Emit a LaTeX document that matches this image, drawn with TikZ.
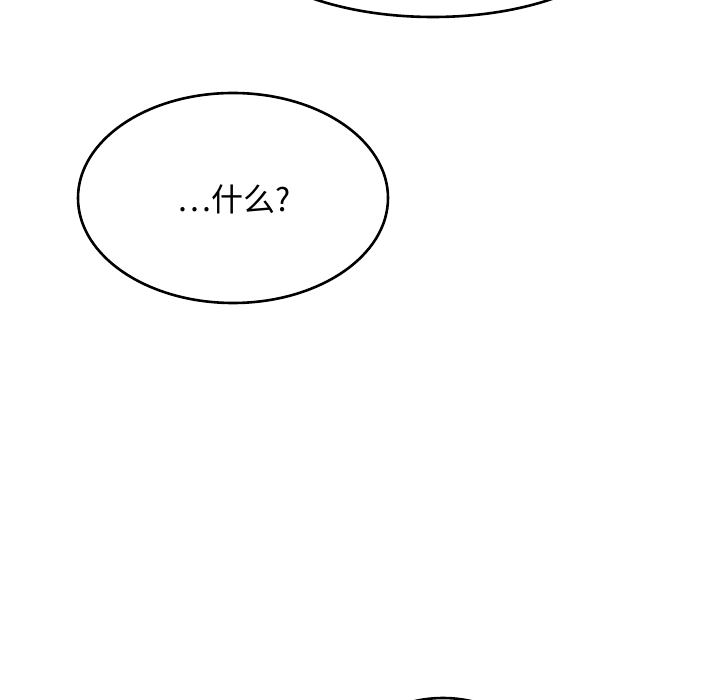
\documentclass[tikz,border=0pt]{standalone}
\usepackage{fontspec}
\newfontfamily\cjk{Noto Sans CJK SC}
\begin{document}
\begin{tikzpicture}[x=1pt,y=-1pt,
  bubble/.style={draw=black,line width=2.6pt,fill=white}]
\useasboundingbox (0,0) rectangle (720,700);
\fill[white] (0,0) rectangle (720,700);
\begin{scope}
\clip (0,0) rectangle (720,700);
\draw[bubble] (433,-75) ellipse [x radius=200, y radius=92];
\draw[bubble] (443,760) ellipse [x radius=90, y radius=62];
\end{scope}
\draw[bubble] (233,198) ellipse [x radius=155, y radius=105];
\node[font=\cjk\fontsize{32}{38}\selectfont, inner sep=0] (t) at (234,199) {…什么?};
\end{tikzpicture}
\end{document}
